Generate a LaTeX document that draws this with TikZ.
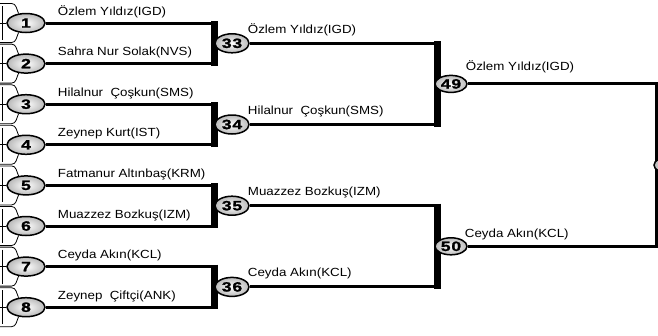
\documentclass[tikz,border=0pt]{standalone}
\usepackage{fontspec}
\setmainfont{Liberation Sans}[FakeStretch=1.13]
\newfontfamily\seedfont{Liberation Sans}[FakeStretch=1.3,FakeBold=1.5,LetterSpace=6]
\usetikzlibrary{shapes.geometric,positioning,calc}

\tikzset{
  seed/.style={ellipse, draw=black, line width=1.5pt, inner color=white, outer color=gray!55,
    minimum width=38pt, minimum height=19pt, inner sep=0pt,
    font=\seedfont\bfseries\fontsize{13.5}{13.5}\selectfont},
  wire/.style={line width=3pt},
  bar/.style={line width=7pt},
  stub/.style={line width=0.8pt},
  pname/.style={anchor=base west, inner sep=0pt, font=\fontsize{11.8}{12}\selectfont}
}

\begin{document}
\begin{tikzpicture}[x=1pt,y=-1pt]
    \clip (0,0) rectangle (658,335);

    % Round 1
    \foreach \i in {1,...,8}
      \node [seed] (s\i) at (26, {23+40.6*(\i-1)}) {\i};

    % cut-off brackets at the left edge
    \foreach \i in {1,...,8} {
      \draw [stub] (s\i.west) -- ++(-12,0);
      \draw [stub] (s\i.128) to[out=115,in=0] ++(-7,-10) -- ++(-12,0);
      \draw [stub] (s\i.232) to[out=245,in=0] ++(-7,10) -- ++(-12,0);
      \draw [stub] ($(s\i.west)+(-4,-17)$) -- ($(s\i.west)+(-4,17)$);
    }

    \foreach \i/\txt in {1/Özlem Yıldız(IGD), 2/Sahra Nur Solak(NVS), 3/Hilalnur\ \ Çoşkun(SMS),
                         4/Zeynep Kurt(IST), 5/Fatmanur Altınbaş(KRM), 6/Muazzez Bozkuş(IZM),
                         7/Ceyda Akın(KCL), 8/Zeynep\ \ Çiftçi(ANK)}
      \node [pname] (n\i) at ($(s\i.east)+(12,-8)$) {\txt};

    % Round 2
    \coordinate (k1) at (214,0);
    \foreach \a/\b/\q/\n in {1/2/1/33, 3/4/2/34, 5/6/3/35, 7/8/4/36} {
      \draw [wire] (s\a.east) -- (s\a -| k1) -- (s\b -| k1) -- (s\b.east);
      \draw [bar] ([yshift=2pt]s\a -| k1) -- ([yshift=-2pt]s\b -| k1);
      \node [seed, minimum width=34pt] (q\q) at ($(s\a)!0.5!(s\b)+(206,0)$) {\n};
    }

    \foreach \q/\txt in {1/Özlem Yıldız(IGD), 2/Hilalnur\ \ Çoşkun(SMS),
                         3/Muazzez Bozkuş(IZM), 4/Ceyda Akın(KCL)}
      \node [pname] (m\q) at ($(q\q.east)+(-2,-10)$) {\txt};

    % Round 3
    \coordinate (k2) at (437,0);
    \foreach \a/\b/\r/\n in {1/2/1/49, 3/4/2/50} {
      \draw [wire] (q\a.east) -- (q\a -| k2) -- (q\b -| k2) -- (q\b.east);
      \draw [bar] ([yshift=2pt]q\a -| k2) -- ([yshift=-2pt]q\b -| k2);
      \node [seed, minimum width=32pt, minimum height=17pt] (r\r) at ($(q\a)!0.5!(q\b)+(219,0)$) {\n};
    }

    \node [pname] (w1) at ($(r1.east)+(-2,-13)$) {Özlem Yıldız(IGD)};
    \node [pname] (w2) at ($(r2.east)+(-3,-9)$) {Ceyda Akın(KCL)};

    % Final
    \coordinate (k3) at (656,0);
    \draw [wire] (r1.east) -- (r1 -| k3) -- (r2 -| k3) -- (r2.east);
    \node [seed, minimum width=32pt, minimum height=17pt] (f) at ($(r1)!0.5!(r2)+(219,0)$) {};
\end{tikzpicture}
\end{document}
